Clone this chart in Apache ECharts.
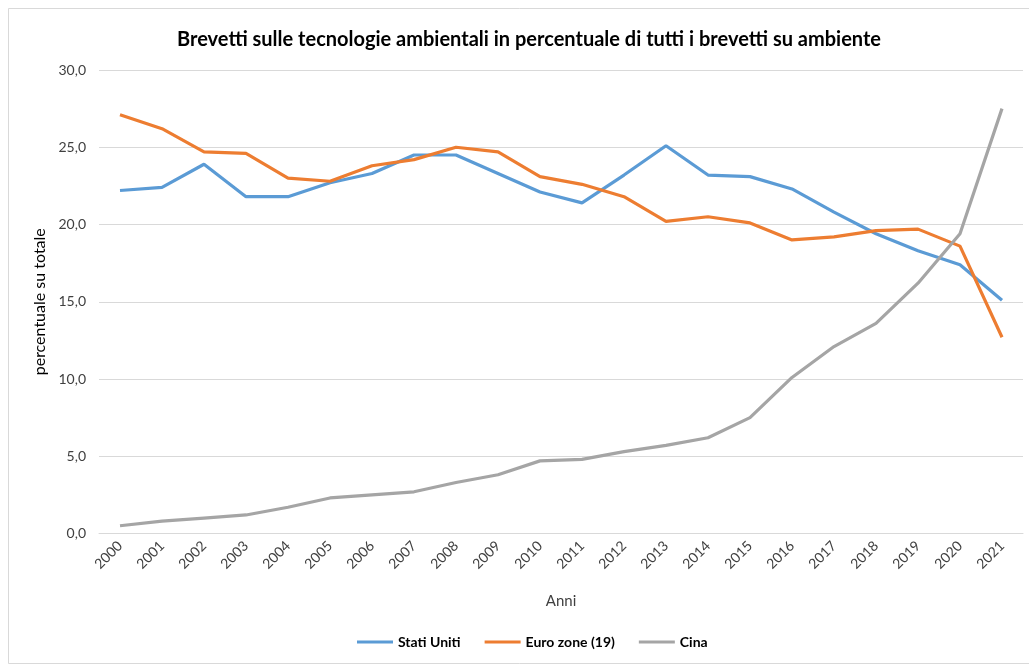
<!DOCTYPE html>
<html><head><meta charset="utf-8">
<script src="https://cdn.jsdelivr.net/npm/echarts@6/dist/echarts.min.js"></script>
<style>html,body{margin:0;padding:0;background:#fff}#c{width:1029px;height:668px}</style>
</head><body><div id="c"></div>
<script>
const categories = ['2000','2001','2002','2003','2004','2005','2006','2007','2008','2009','2010','2011','2012','2013','2014','2015','2016','2017','2018','2019','2020','2021'];
const statiUniti = [22.2,22.4,23.9,21.8,21.8,22.7,23.3,24.5,24.5,23.3,22.1,21.4,23.2,25.1,23.2,23.1,22.3,20.8,19.4,18.3,17.4,15.1];
const euroZone = [27.1,26.2,24.7,24.6,23.0,22.8,23.8,24.2,25.0,24.7,23.1,22.6,21.8,20.2,20.5,20.1,19.0,19.2,19.6,19.7,18.6,12.7];
const cina = [0.5,0.8,1.0,1.2,1.7,2.3,2.5,2.7,3.3,3.8,4.7,4.8,5.3,5.7,6.2,7.5,10.1,12.1,13.6,16.2,19.4,27.5];
const yTicks = [0,5,10,15,20,25,30];

const FONT = 'Lato, "Open Sans", sans-serif';
const chart = echarts.init(document.getElementById('c'), null, {renderer:'canvas'});
chart.setOption({
  animation:false,
  backgroundColor:'#fff',
  graphic:[{type:'rect',shape:{x:8.5,y:8.5,width:1040,height:655},style:{fill:'none',stroke:'#d9d9d9',lineWidth:1}}],
  title:{text:'Brevetti sulle tecnologie ambientali in percentuale di tutti i brevetti su ambiente',left:172,top:25,
    textStyle:{fontFamily:FONT,fontSize:20,fontWeight:'bold',color:'#000'}},
  legend:{bottom:14,left:352,itemWidth:36,itemHeight:3,itemGap:24,icon:'rect',
    textStyle:{fontFamily:FONT,fontSize:14,fontWeight:'bold',color:'#000'},
    data:['Stati Uniti','Euro zone (19)','Cina']},
  grid:{left:99,right:6,top:70,bottom:134.5},
  xAxis:{type:'category',data:categories,boundaryGap:true,
    name:'Anni',nameLocation:'middle',nameGap:60,nameTextStyle:{fontFamily:FONT,fontSize:15,color:'#404040'},
    axisLine:{show:true,lineStyle:{color:'#d9d9d9'}},axisTick:{show:false},
    axisLabel:{rotate:45,interval:0,fontFamily:FONT,fontSize:14,color:'#404040',margin:10}},
  yAxis:{type:'value',min:0,max:30,interval:5,
    name:'percentuale su totale',nameLocation:'middle',nameGap:50,nameTextStyle:{fontFamily:FONT,fontSize:16,color:'#000'},
    axisLine:{show:false},axisTick:{show:false},
    splitLine:{lineStyle:{color:'#d9d9d9',width:1}},
    axisLabel:{fontFamily:FONT,fontSize:14,color:'#404040',margin:13,
      formatter:v=>yTicks.includes(v)?v.toFixed(1).replace('.',','):''}},
  series:[
    {name:'Stati Uniti',type:'line',data:statiUniti,symbol:'none',lineStyle:{width:3.2,color:'#5B9BD5'},itemStyle:{color:'#5B9BD5'}},
    {name:'Euro zone (19)',type:'line',data:euroZone,symbol:'none',lineStyle:{width:3.2,color:'#ED7D31'},itemStyle:{color:'#ED7D31'}},
    {name:'Cina',type:'line',data:cina,symbol:'none',lineStyle:{width:3.2,color:'#A5A5A5'},itemStyle:{color:'#A5A5A5'}}
  ]
});
</script></body></html>
